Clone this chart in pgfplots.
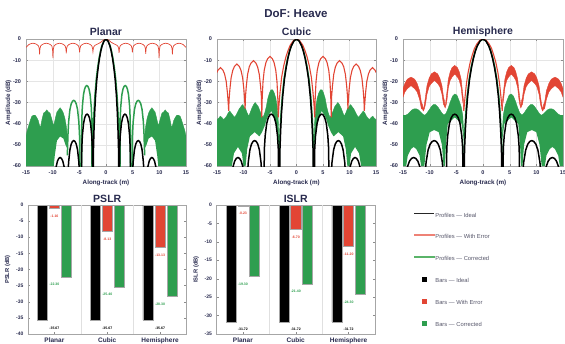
\documentclass[border=0pt]{standalone}
\usepackage{fontspec}
\setmainfont{Liberation Sans}
\usepackage{pgfplots}
\pgfplotsset{compat=1.18}
\usepgfplotslibrary{fillbetween}
\definecolor{cred}{RGB}{226,69,52}
\definecolor{cgreen}{RGB}{46,158,79}
\definecolor{navy}{RGB}{40,42,78}
\definecolor{leg}{RGB}{85,85,105}
\definecolor{lred}{RGB}{238,130,118}
\definecolor{lgreen}{RGB}{90,180,105}
\pgfplotsset{
 common/.style={scale only axis, axis line style={black!35}, tick style={black!45,line width=0.3pt},
   major tick length=2pt, tick align=inside,
   /pgf/number format/assume math mode=true,
   every axis title/.style={at={(axis description cs:0.5,#1)}, anchor=center, font=\bfseries\fontsize{10.5}{12}\selectfont, text=navy}},
 prof/.style={common=1.055, width=160pt, height=127pt, xmin=-15, xmax=15, ymin=-60, ymax=0,
   xtick={-15,-10,...,15}, ytick={-60,-50,...,0}, grid=major, grid style={black!10,line width=0.3pt},
   ticklabel style={font=\bfseries\fontsize{5.5}{6}\selectfont, text=navy},
   x tick label style={yshift=-1.5pt}, y tick label style={xshift=-1.5pt},
   xlabel={Along-track (m)}, ylabel={Amplitude (dB)},
   every axis x label/.style={at={(axis description cs:0.5,-0.131)}, anchor=center, font=\bfseries\fontsize{6.3}{7}\selectfont, text=navy},
   every axis y label/.style={at={(axis description cs:-0.11,0.5)}, rotate=90, anchor=center, font=\bfseries\fontsize{6.3}{7}\selectfont, text=navy}},
 barax/.style={common=1.0465, width=158.5pt, height=129pt, xmin=0.5, xmax=3.5, ymax=0,
   xtick={1,2,3}, xticklabels={Planar,Cubic,Hemisphere},
   x tick label style={font=\bfseries\fontsize{6.5}{7}\selectfont, text=navy, yshift=-0.5pt},
   y tick label style={font=\bfseries\fontsize{5}{5.5}\selectfont, text=navy, xshift=-1pt},
   extra x ticks={1.5,2.5}, extra x tick labels={}, extra x tick style={grid=major, major grid style={black!12,line width=0.4pt}, major tick length=0pt},
   every axis y label/.style={at={(axis description cs:-0.128,0.5)}, rotate=90, anchor=center, font=\bfseries\fontsize{5.8}{7}\selectfont, text=navy}},
 blk/.style={black, line width=1.5pt},
 nn/.style={nodes near coords={\pgfmathprintnumber[fixed,fixed zerofill,precision=2]{\pgfplotspointmeta}},
   every node near coord/.append style={font=\bfseries\fontsize{3.5}{4}\selectfont, text=#1, yshift=-3pt}},
}
\begin{document}
\begin{tikzpicture}
\node[font=\bfseries\fontsize{11.5}{13}\selectfont, text=navy] at (296pt,-14pt) {DoF: Heave};

% ================= Planar =================
\begin{axis}[prof, at={(26pt,-166pt)}, anchor=south west, title={Planar}]
\addplot[name path=pu1, cgreen, line width=0.4pt] coordinates {(7.2,-48)(7.4,-42)(7.7,-37.5)(8.0,-35)(8.3,-33.5)(8.6,-32.5)(8.9,-33.5)(9.2,-34.5)(9.5,-37.5)(9.8,-41)(10.0,-39.5)(10.2,-37.5)(10.5,-35)(10.8,-34.5)(11.1,-33.5)(11.4,-34.5)(11.7,-35)(12.0,-38)(12.3,-42)(12.5,-40.5)(12.7,-38.5)(13.0,-37)(13.3,-36)(13.6,-36)(13.9,-36.5)(14.2,-38.5)(14.5,-41)(14.8,-43.5)(15,-46)};
\addplot[name path=pl1, draw=none] coordinates {(7.2,-52)(7.6,-50)(8.0,-47)(8.6,-46)(9.2,-48)(9.6,-55)(9.8,-60)(15,-60)};
\addplot[cgreen] fill between[of=pu1 and pl1];
\addplot[name path=pu2, cgreen, line width=0.4pt] coordinates {(-7.2,-48)(-7.4,-42)(-7.7,-37.5)(-8.0,-35)(-8.3,-33.5)(-8.6,-32.5)(-8.9,-33.5)(-9.2,-34.5)(-9.5,-37.5)(-9.8,-41)(-10.0,-39.5)(-10.2,-37.5)(-10.5,-35)(-10.8,-34.5)(-11.1,-33.5)(-11.4,-34.5)(-11.7,-35)(-12.0,-38)(-12.3,-42)(-12.5,-40.5)(-12.7,-38.5)(-13.0,-37)(-13.3,-36)(-13.6,-36)(-13.9,-36.5)(-14.2,-38.5)(-14.5,-41)(-14.8,-43.5)(-15,-46)};
\addplot[name path=pl2, draw=none] coordinates {(-7.2,-52)(-7.6,-50)(-8.0,-47)(-8.6,-46)(-9.2,-48)(-9.6,-55)(-9.8,-60)(-15,-60)};
\addplot[cgreen] fill between[of=pu2 and pl2];
% green main lobe and first sidelobes
\addplot[cgreen, line width=1.5pt] coordinates {(0,0)(0.39,-0.9)(0.78,-3.3)(1.04,-5.8)(1.3,-9.2)(1.56,-13.5)(1.82,-19)(2.08,-27)(2.26,-35)(2.39,-43)(2.5,-52)(2.6,-80)(2.66,-38)(2.76,-32.2)(2.97,-26.4)(3.18,-23.7)(3.39,-22.4)(3.6,-22)(3.81,-22.4)(4.02,-23.7)(4.23,-26.4)(4.44,-32.2)(4.54,-38)(4.65,-80)(4.85,-80)(4.97,-45)(5.09,-39.2)(5.33,-33.4)(5.57,-30.7)(5.81,-29.4)(6.05,-29)(6.29,-29.4)(6.53,-30.7)(6.77,-33.4)(7.01,-39.2)(7.13,-45)(7.25,-55)};
\addplot[cgreen, line width=1.5pt] coordinates {(0,0)(-0.39,-0.9)(-0.78,-3.3)(-1.04,-5.8)(-1.3,-9.2)(-1.56,-13.5)(-1.82,-19)(-2.08,-27)(-2.26,-35)(-2.39,-43)(-2.5,-52)(-2.6,-80)(-2.66,-38)(-2.76,-32.2)(-2.97,-26.4)(-3.18,-23.7)(-3.39,-22.4)(-3.6,-22)(-3.81,-22.4)(-4.02,-23.7)(-4.23,-26.4)(-4.44,-32.2)(-4.54,-38)(-4.65,-80)(-4.85,-80)(-4.97,-45)(-5.09,-39.2)(-5.33,-33.4)(-5.57,-30.7)(-5.81,-29.4)(-6.05,-29)(-6.29,-29.4)(-6.53,-30.7)(-6.77,-33.4)(-7.01,-39.2)(-7.13,-45)(-7.25,-55)};
% red (with error)
\addplot[cred, line width=0.7pt] coordinates {(0,0)(0.5,-0.5)(1.0,-1.6)(1.6,-2.4)(2.0,-2.9)(2.25,-3.5)(2.38,-4.5)(2.45,-6.5)(2.52,-4.5)(2.65,-3.3)(2.95,-2.6)(3.3,-2.2)(3.7,-2.0)(4.1,-2.2)(4.45,-2.6)(4.75,-3.3)(4.88,-4.5)(4.95,-6.3)(5.02,-4.5)(5.15,-3.3)(5.45,-2.6)(5.8,-2.2)(6.2,-2.0)(6.6,-2.2)(6.95,-2.6)(7.25,-3.3)(7.38,-4.5)(7.45,-7.0)(7.52,-4.5)(7.65,-3.3)(7.95,-2.6)(8.3,-2.2)(8.7,-2.0)(9.1,-2.2)(9.45,-2.6)(9.75,-3.3)(9.88,-5)(9.95,-9)(10.02,-5)(10.15,-3.3)(10.45,-2.6)(10.8,-2.2)(11.2,-2.0)(11.6,-2.2)(11.95,-2.6)(12.25,-3.3)(12.38,-4.5)(12.45,-7.2)(12.52,-4.5)(12.65,-3.3)(12.95,-2.6)(13.3,-2.2)(13.7,-2.0)(14.1,-2.2)(14.45,-2.6)(14.75,-3.3)(15,-4)};
\addplot[cred, line width=0.7pt] coordinates {(0,0)(-0.5,-0.5)(-1.0,-1.6)(-1.6,-2.4)(-2.0,-2.9)(-2.25,-3.5)(-2.38,-4.5)(-2.45,-6)(-2.52,-4.5)(-2.65,-3.3)(-2.95,-2.6)(-3.3,-2.2)(-3.7,-2.0)(-4.1,-2.2)(-4.45,-2.6)(-4.75,-3.3)(-4.88,-4.5)(-4.95,-6.3)(-5.02,-4.5)(-5.15,-3.3)(-5.45,-2.6)(-5.8,-2.2)(-6.2,-2.0)(-6.6,-2.2)(-6.95,-2.6)(-7.25,-3.3)(-7.38,-4.5)(-7.45,-6.8)(-7.52,-4.5)(-7.65,-3.3)(-7.95,-2.6)(-8.3,-2.2)(-8.7,-2.0)(-9.1,-2.2)(-9.45,-2.6)(-9.75,-3.3)(-9.88,-5)(-9.95,-9)(-10.02,-5)(-10.15,-3.3)(-10.45,-2.6)(-10.8,-2.2)(-11.2,-2.0)(-11.6,-2.2)(-11.95,-2.6)(-12.25,-3.3)(-12.38,-4.5)(-12.45,-7.2)(-12.52,-4.5)(-12.65,-3.3)(-12.95,-2.6)(-13.3,-2.2)(-13.7,-2.0)(-14.1,-2.2)(-14.45,-2.6)(-14.75,-3.3)(-15,-4)};
% black (ideal)
\addplot[blk] coordinates {(0,0)(0.37,-0.9)(0.74,-3.3)(0.98,-5.8)(1.23,-9.2)(1.47,-13.5)(1.72,-19)(1.96,-27)(2.13,-35)(2.25,-43)(2.35,-52)(2.45,-80)(2.56,-51.5)(2.67,-45.7)(2.89,-39.9)(3.11,-37.2)(3.33,-35.9)(3.55,-35.5)(3.77,-35.9)(3.99,-37.2)(4.21,-39.9)(4.43,-45.7)(4.54,-51.5)(4.65,-80)(4.85,-80)(4.97,-64)(5.09,-58.2)(5.33,-52.4)(5.57,-49.7)(5.81,-48.4)(6.05,-48)(6.29,-48.4)(6.53,-49.7)(6.77,-52.4)(7.01,-58.2)(7.13,-64)(7.25,-80)(7.6,-66.2)(7.85,-60.4)(8.1,-57.7)(8.35,-56.4)(8.6,-56)(8.85,-56.4)(9.1,-57.7)(9.35,-60.4)(9.6,-66.2)(15,-80)};
\addplot[blk] coordinates {(0,0)(-0.37,-0.9)(-0.74,-3.3)(-0.98,-5.8)(-1.23,-9.2)(-1.47,-13.5)(-1.72,-19)(-1.96,-27)(-2.13,-35)(-2.25,-43)(-2.35,-52)(-2.45,-80)(-2.56,-51.5)(-2.67,-45.7)(-2.89,-39.9)(-3.11,-37.2)(-3.33,-35.9)(-3.55,-35.5)(-3.77,-35.9)(-3.99,-37.2)(-4.21,-39.9)(-4.43,-45.7)(-4.54,-51.5)(-4.65,-80)(-4.85,-80)(-4.97,-64)(-5.09,-58.2)(-5.33,-52.4)(-5.57,-49.7)(-5.81,-48.4)(-6.05,-48)(-6.29,-48.4)(-6.53,-49.7)(-6.77,-52.4)(-7.01,-58.2)(-7.13,-64)(-7.25,-80)(-7.6,-66.2)(-7.85,-60.4)(-8.1,-57.7)(-8.35,-56.4)(-8.6,-56)(-8.85,-56.4)(-9.1,-57.7)(-9.35,-60.4)(-9.6,-66.2)(-15,-80)};
\end{axis}

% ================= Cubic =================
\begin{axis}[prof, at={(217pt,-166pt)}, anchor=south west, width=159pt, title={Cubic}]
\addplot[name path=cu1, cgreen, line width=0.4pt] coordinates {(3.3,-48)(3.45,-38)(3.65,-32)(3.9,-28)(4.2,-25.5)(4.5,-24)(4.8,-24)(5.1,-25.5)(5.4,-28)(5.7,-32)(6.0,-35)(6.3,-37)(6.6,-36)(6.9,-34)(7.2,-32)(7.5,-31)(7.8,-30)(8.1,-31)(8.4,-32.5)(8.7,-34.5)(9.0,-36.5)(9.3,-35)(9.6,-33)(9.9,-32)(10.2,-31)(10.5,-32)(10.8,-33)(11.1,-34.5)(11.4,-36)(11.7,-37)(12.0,-36)(12.3,-35)(12.6,-34)(12.9,-35)(13.2,-36.5)(13.5,-37.5)(13.8,-38)(14.1,-37)(14.4,-36.5)(14.7,-37.5)(15.0,-38)};
\addplot[name path=cl1, draw=none] coordinates {(3.3,-52)(3.6,-45)(4.0,-39)(4.75,-34)(5.5,-37)(6.0,-41)(6.5,-44)(7.0,-46)(7.9,-44)(8.8,-46)(9.3,-52)(9.6,-60)(10.0,-60)(10.3,-54)(11.05,-51)(11.8,-54)(12.2,-60)(15,-60)};
\addplot[cgreen] fill between[of=cu1 and cl1];
\addplot[name path=cu2, cgreen, line width=0.4pt] coordinates {(-3.3,-48)(-3.45,-38)(-3.65,-32)(-3.9,-28)(-4.2,-25.5)(-4.5,-24)(-4.8,-24)(-5.1,-25.5)(-5.4,-28)(-5.7,-32)(-6.0,-35)(-6.3,-37)(-6.6,-36)(-6.9,-34)(-7.2,-32)(-7.5,-31)(-7.8,-30)(-8.1,-31)(-8.4,-32.5)(-8.7,-34.5)(-9.0,-36.5)(-9.3,-35)(-9.6,-33)(-9.9,-32)(-10.2,-31)(-10.5,-32)(-10.8,-33)(-11.1,-34.5)(-11.4,-36)(-11.7,-37)(-12.0,-36)(-12.3,-35)(-12.6,-34)(-12.9,-35)(-13.2,-36.5)(-13.5,-37.5)(-13.8,-38)(-14.1,-37)(-14.4,-36.5)(-14.7,-37.5)(-15.0,-38)};
\addplot[name path=cl2, draw=none] coordinates {(-3.3,-52)(-3.6,-45)(-4.0,-39)(-4.75,-34)(-5.5,-37)(-6.0,-41)(-6.5,-44)(-7.0,-46)(-7.9,-44)(-8.8,-46)(-9.3,-52)(-9.6,-60)(-10.0,-60)(-10.3,-54)(-11.05,-51)(-11.8,-54)(-12.2,-60)(-15,-60)};
\addplot[cgreen] fill between[of=cu2 and cl2];
\addplot[cgreen, line width=1.5pt] coordinates {(-3.35,-80)(-3.22,-52)(-3.08,-43)(-2.91,-35)(-2.68,-27)(-2.35,-19)(-2.01,-13.5)(-1.68,-9.2)(-1.34,-5.8)(-1.0,-3.3)(-0.5,-0.9)(0,0)(0.5,-0.9)(1.0,-3.3)(1.34,-5.8)(1.68,-9.2)(2.01,-13.5)(2.35,-19)(2.68,-27)(2.91,-35)(3.08,-43)(3.22,-52)(3.35,-80)};
% red
\addplot[cred, line width=1.1pt] coordinates {(0,0)(0.6,-0.8)(1.2,-3)(1.6,-5.5)(2.0,-8.5)(2.4,-12.5)(2.8,-18)(3.1,-25)(3.3,-31)(3.45,-37)(3.53,-28)(3.68,-20.2)(3.915,-14.7)(4.225,-11.2)(4.535,-9.4)(5.0,-8.2)(5.465,-9.4)(5.775,-11.2)(6.085,-14.7)(6.32,-20.2)(6.47,-28)(6.55,-37)(6.625,-27.2)(6.785,-22.2)(7.025,-16.7)(7.335,-13.2)(7.655,-11.4)(8.125,-10.2)(8.595,-11.4)(8.915,-13.2)(9.225,-16.7)(9.465,-22.2)(9.625,-27.2)(9.7,-33)(9.78,-28.8)(9.93,-23.8)(10.165,-18.3)(10.475,-14.8)(10.785,-13.0)(11.25,-11.8)(11.715,-13.0)(12.025,-14.8)(12.335,-18.3)(12.57,-23.8)(12.72,-28.8)(12.8,-34)(12.88,-30.5)(13.03,-25.5)(13.265,-20)(13.575,-16.5)(13.885,-14.7)(14.35,-13.5)(14.815,-14.7)(15,-15.8)};
\addplot[cred, line width=1.1pt] coordinates {(0,0)(-0.6,-0.8)(-1.2,-3)(-1.6,-5.5)(-2.0,-8.5)(-2.4,-12.5)(-2.8,-18)(-3.1,-25)(-3.3,-31)(-3.45,-37)(-3.53,-28)(-3.68,-20.2)(-3.915,-14.7)(-4.225,-11.2)(-4.535,-9.4)(-5.0,-8.2)(-5.465,-9.4)(-5.775,-11.2)(-6.085,-14.7)(-6.32,-20.2)(-6.47,-28)(-6.55,-37)(-6.625,-27.2)(-6.785,-22.2)(-7.025,-16.7)(-7.335,-13.2)(-7.655,-11.4)(-8.125,-10.2)(-8.595,-11.4)(-8.915,-13.2)(-9.225,-16.7)(-9.465,-22.2)(-9.625,-27.2)(-9.7,-33)(-9.78,-28.8)(-9.93,-23.8)(-10.165,-18.3)(-10.475,-14.8)(-10.785,-13.0)(-11.25,-11.8)(-11.715,-13.0)(-12.025,-14.8)(-12.335,-18.3)(-12.57,-23.8)(-12.72,-28.8)(-12.8,-34)(-12.88,-30.5)(-13.03,-25.5)(-13.265,-20)(-13.575,-16.5)(-13.885,-14.7)(-14.35,-13.5)(-14.815,-14.7)(-15,-15.8)};
% black
\addplot[blk] coordinates {(0,0)(0.49,-0.9)(0.98,-3.3)(1.3,-5.8)(1.63,-9.2)(1.95,-13.5)(2.28,-19)(2.6,-27)(2.83,-35)(2.99,-43)(3.12,-52)(3.25,-80)(3.3,-80)(3.445,-51.5)(3.59,-45.7)(3.88,-39.9)(4.17,-37.2)(4.46,-35.9)(4.75,-35.5)(5.04,-35.9)(5.33,-37.2)(5.62,-39.9)(5.91,-45.7)(6.055,-51.5)(6.2,-80)(6.4,-80)(6.55,-64)(6.7,-58.2)(7.0,-52.4)(7.3,-49.7)(7.6,-48.4)(7.9,-48)(8.2,-48.4)(8.5,-49.7)(8.8,-52.4)(9.1,-58.2)(9.25,-64)(9.4,-80)(9.81,-66.2)(10.12,-60.4)(10.43,-57.7)(10.74,-56.4)(11.05,-56)(11.36,-56.4)(11.67,-57.7)(11.98,-60.4)(12.29,-66.2)(15,-80)};
\addplot[blk] coordinates {(0,0)(-0.49,-0.9)(-0.98,-3.3)(-1.3,-5.8)(-1.63,-9.2)(-1.95,-13.5)(-2.28,-19)(-2.6,-27)(-2.83,-35)(-2.99,-43)(-3.12,-52)(-3.25,-80)(-3.3,-80)(-3.445,-51.5)(-3.59,-45.7)(-3.88,-39.9)(-4.17,-37.2)(-4.46,-35.9)(-4.75,-35.5)(-5.04,-35.9)(-5.33,-37.2)(-5.62,-39.9)(-5.91,-45.7)(-6.055,-51.5)(-6.2,-80)(-6.4,-80)(-6.55,-64)(-6.7,-58.2)(-7.0,-52.4)(-7.3,-49.7)(-7.6,-48.4)(-7.9,-48)(-8.2,-48.4)(-8.5,-49.7)(-8.8,-52.4)(-9.1,-58.2)(-9.25,-64)(-9.4,-80)(-9.81,-66.2)(-10.12,-60.4)(-10.43,-57.7)(-10.74,-56.4)(-11.05,-56)(-11.36,-56.4)(-11.67,-57.7)(-11.98,-60.4)(-12.29,-66.2)(-15,-80)};
\end{axis}

% ================= Hemisphere =================
\begin{axis}[prof, at={(403pt,-166pt)}, anchor=south west, title={Hemisphere}]
\addplot[name path=hu1, cgreen, line width=0.4pt] coordinates {(3.6,-45)(3.8,-36)(4.1,-32)(4.5,-29)(4.9,-26.5)(5.3,-26)(5.7,-27)(6.1,-29.5)(6.5,-32.5)(6.9,-35)(7.3,-36)(7.7,-35)(8.1,-33.5)(8.5,-32)(8.9,-31)(9.3,-31)(9.7,-32)(10.1,-33.5)(10.5,-35)(10.9,-36)(11.3,-35.5)(11.7,-34.5)(12.1,-33.5)(12.5,-33)(12.9,-33)(13.3,-33.5)(13.7,-34.5)(14.1,-35.5)(14.5,-36)(15.0,-36)};
\addplot[name path=hl1, draw=none] coordinates {(3.6,-48)(4.0,-40)(5.3,-37)(6.6,-40)(6.95,-50)(7.15,-60)(7.4,-60)(7.7,-50)(8.3,-44)(9.15,-43)(10.0,-44)(10.6,-50)(11.0,-60)(11.6,-60)(11.9,-55)(12.5,-52)(13.0,-51)(13.5,-52)(14.1,-55)(14.4,-60)(15,-60)};
\addplot[cgreen] fill between[of=hu1 and hl1];
\addplot[name path=hu2, cgreen, line width=0.4pt] coordinates {(-3.6,-45)(-3.8,-36)(-4.1,-32)(-4.5,-29)(-4.9,-26.5)(-5.3,-26)(-5.7,-27)(-6.1,-29.5)(-6.5,-32.5)(-6.9,-35)(-7.3,-36)(-7.7,-35)(-8.1,-33.5)(-8.5,-32)(-8.9,-31)(-9.3,-31)(-9.7,-32)(-10.1,-33.5)(-10.5,-35)(-10.9,-36)(-11.3,-35.5)(-11.7,-34.5)(-12.1,-33.5)(-12.5,-33)(-12.9,-33)(-13.3,-33.5)(-13.7,-34.5)(-14.1,-35.5)(-14.5,-36)(-15.0,-36)};
\addplot[name path=hl2, draw=none] coordinates {(-3.6,-48)(-4.0,-40)(-5.3,-37)(-6.6,-40)(-6.95,-50)(-7.15,-60)(-7.4,-60)(-7.7,-50)(-8.3,-44)(-9.15,-43)(-10.0,-44)(-10.6,-50)(-11.0,-60)(-11.6,-60)(-11.9,-55)(-12.5,-52)(-13.0,-51)(-13.5,-52)(-14.1,-55)(-14.4,-60)(-15,-60)};
\addplot[cgreen] fill between[of=hu2 and hl2];
\addplot[cgreen, line width=1.5pt] coordinates {(-3.7,-80)(-3.55,-52)(-3.4,-43)(-3.22,-35)(-2.96,-27)(-2.59,-19)(-2.22,-13.5)(-1.85,-9.2)(-1.48,-5.8)(-1.11,-3.3)(-0.56,-0.9)(0,0)(0.56,-0.9)(1.11,-3.3)(1.48,-5.8)(1.85,-9.2)(2.22,-13.5)(2.59,-19)(2.96,-27)(3.22,-35)(3.4,-43)(3.55,-52)(3.7,-80)};
% red bands
\addplot[name path=ru1, cred, line width=0.4pt] coordinates {(3.6,-34)(3.7,-28)(3.86,-24.5)(4.1,-19)(4.45,-15.5)(4.8,-13.5)(5.3,-12.5)(5.8,-13.5)(6.15,-15.5)(6.5,-19)(6.74,-24.5)(6.9,-28)(7.1,-32)(7.25,-29)(7.4,-27.5)(7.7,-22)(8.1,-18.5)(8.5,-16.5)(9.1,-15.5)(9.7,-16.5)(10.1,-18.5)(10.5,-22)(10.8,-27.5)(11.0,-31)(11.2,-33.5)(11.35,-31)(11.545,-30)(11.89,-24.5)(12.35,-21)(12.81,-19)(13.5,-18)(14.19,-19)(14.65,-21)(15.0,-23.5)};
\addplot[name path=rl1, cred, line width=0.4pt] coordinates {(3.6,-34)(3.7,-31)(3.86,-28.5)(4.1,-23)(4.45,-19.5)(4.8,-18)(5.3,-16.5)(5.8,-18)(6.15,-19.5)(6.5,-23)(6.74,-28.5)(6.9,-31)(7.1,-32.5)(7.25,-31.5)(7.4,-31)(7.7,-26)(8.1,-22.5)(8.5,-21)(9.1,-19.5)(9.7,-21)(10.1,-22.5)(10.5,-26)(10.8,-31)(11.0,-33)(11.2,-34)(11.35,-33)(11.545,-33)(11.89,-28.5)(12.35,-25)(12.81,-23.5)(13.5,-22)(14.19,-23.5)(14.65,-25)(15.0,-27.5)};
\addplot[cred] fill between[of=ru1 and rl1];
\addplot[name path=ru2, cred, line width=0.4pt] coordinates {(-3.6,-34)(-3.7,-28)(-3.86,-24.5)(-4.1,-19)(-4.45,-15.5)(-4.8,-13.5)(-5.3,-12.5)(-5.8,-13.5)(-6.15,-15.5)(-6.5,-19)(-6.74,-24.5)(-6.9,-28)(-7.1,-32)(-7.25,-29)(-7.4,-27.5)(-7.7,-22)(-8.1,-18.5)(-8.5,-16.5)(-9.1,-15.5)(-9.7,-16.5)(-10.1,-18.5)(-10.5,-22)(-10.8,-27.5)(-11.0,-31)(-11.2,-33.5)(-11.35,-31)(-11.545,-30)(-11.89,-24.5)(-12.35,-21)(-12.81,-19)(-13.5,-18)(-14.19,-19)(-14.65,-21)(-15.0,-23.5)};
\addplot[name path=rl2, cred, line width=0.4pt] coordinates {(-3.6,-34)(-3.7,-31)(-3.86,-28.5)(-4.1,-23)(-4.45,-19.5)(-4.8,-18)(-5.3,-16.5)(-5.8,-18)(-6.15,-19.5)(-6.5,-23)(-6.74,-28.5)(-6.9,-31)(-7.1,-32.5)(-7.25,-31.5)(-7.4,-31)(-7.7,-26)(-8.1,-22.5)(-8.5,-21)(-9.1,-19.5)(-9.7,-21)(-10.1,-22.5)(-10.5,-26)(-10.8,-31)(-11.0,-33)(-11.2,-34)(-11.35,-33)(-11.545,-33)(-11.89,-28.5)(-12.35,-25)(-12.81,-23.5)(-13.5,-22)(-14.19,-23.5)(-14.65,-25)(-15.0,-27.5)};
\addplot[cred] fill between[of=ru2 and rl2];
\addplot[cred, line width=1.1pt] coordinates {(-3.6,-34)(-3.5,-31)(-3.35,-27)(-3.1,-21)(-2.8,-16)(-2.4,-11)(-2.0,-7.5)(-1.6,-4.5)(-1.2,-2.5)(-0.6,-0.6)(0,0)(0.6,-0.6)(1.2,-2.5)(1.6,-4.5)(2.0,-7.5)(2.4,-11)(2.8,-16)(3.1,-21)(3.35,-27)(3.5,-31)(3.6,-34)};
% black
\addplot[blk] coordinates {(0,0)(0.54,-0.9)(1.08,-3.3)(1.44,-5.8)(1.8,-9.2)(2.16,-13.5)(2.52,-19)(2.88,-27)(3.13,-35)(3.31,-43)(3.46,-52)(3.6,-80)(3.65,-80)(3.815,-51.5)(3.98,-45.7)(4.31,-39.9)(4.64,-37.2)(4.97,-35.9)(5.3,-35.5)(5.63,-35.9)(5.96,-37.2)(6.29,-39.9)(6.62,-45.7)(6.785,-51.5)(6.95,-80)(7.25,-80)(7.44,-64)(7.63,-58.2)(8.01,-52.4)(8.39,-49.7)(8.77,-48.4)(9.15,-48)(9.53,-48.4)(9.91,-49.7)(10.29,-52.4)(10.67,-58.2)(10.86,-64)(11.05,-80)(11.44,-66.2)(11.83,-60.4)(12.22,-57.7)(12.61,-56.4)(13.0,-56)(13.39,-56.4)(13.78,-57.7)(14.17,-60.4)(14.56,-66.2)(15,-80)};
\addplot[blk] coordinates {(0,0)(-0.54,-0.9)(-1.08,-3.3)(-1.44,-5.8)(-1.8,-9.2)(-2.16,-13.5)(-2.52,-19)(-2.88,-27)(-3.13,-35)(-3.31,-43)(-3.46,-52)(-3.6,-80)(-3.65,-80)(-3.815,-51.5)(-3.98,-45.7)(-4.31,-39.9)(-4.64,-37.2)(-4.97,-35.9)(-5.3,-35.5)(-5.63,-35.9)(-5.96,-37.2)(-6.29,-39.9)(-6.62,-45.7)(-6.785,-51.5)(-6.95,-80)(-7.25,-80)(-7.44,-64)(-7.63,-58.2)(-8.01,-52.4)(-8.39,-49.7)(-8.77,-48.4)(-9.15,-48)(-9.53,-48.4)(-9.91,-49.7)(-10.29,-52.4)(-10.67,-58.2)(-10.86,-64)(-11.05,-80)(-11.44,-66.2)(-11.83,-60.4)(-12.22,-57.7)(-12.61,-56.4)(-13.0,-56)(-13.39,-56.4)(-13.78,-57.7)(-14.17,-60.4)(-14.56,-66.2)(-15,-80)};
\end{axis}

% ================= PSLR =================
\begin{axis}[barax, at={(28pt,-334pt)}, anchor=south west, ymin=-40, ytick={-40,-35,...,0}, title={PSLR}, ylabel={PSLR (dB)}]
\addplot[ybar, bar width=0.19, bar shift=-0.23, fill=black, draw=black!35, line width=0.5pt, nn=black] coordinates {(1,-35.67)(2,-35.67)(3,-35.67)};
\addplot[ybar, bar width=0.19, bar shift=0, fill=cred, draw=black!35, line width=0.5pt, nn=cred] coordinates {(1,-1.16)(2,-8.13)(3,-13.13)};
\addplot[ybar, bar width=0.19, bar shift=0.23, fill=cgreen, draw=black!35, line width=0.5pt, nn=cgreen] coordinates {(1,-22.30)(2,-25.40)(3,-28.30)};
\end{axis}

% ================= ISLR =================
\begin{axis}[barax, at={(216.5pt,-334pt)}, anchor=south west, ymin=-35, ytick={-35,-30,...,0}, title={ISLR}, ylabel={ISLR (dB)}]
\addplot[ybar, bar width=0.19, bar shift=-0.22, fill=black, draw=black!35, line width=0.5pt, nn=black] coordinates {(1,-31.72)(2,-31.72)(3,-31.72)};
\addplot[ybar, bar width=0.19, bar shift=0, fill=cred, draw=black!35, line width=0.5pt, nn=cred] coordinates {(1,-0.23)(2,-6.70)(3,-11.20)};
\addplot[ybar, bar width=0.19, bar shift=0.22, fill=cgreen, draw=black!35, line width=0.5pt, nn=cgreen] coordinates {(1,-19.30)(2,-21.40)(3,-24.30)};
\end{axis}

% ================= Legend =================
\begin{axis}[at={(413pt,-212pt)}, anchor=north west, hide axis, scale only axis, width=20pt, height=20pt,
  xmin=0, xmax=1, ymin=0, ymax=1,
  legend cell align=left,
  legend style={at={(0,1)}, anchor=north west, draw=none, fill=none, inner sep=0pt,
    row sep=14.6pt, font=\fontsize{5.8}{6.5}\selectfont,
    nodes={inner sep=0.6pt}}]
\addlegendimage{legend image code/.code={\draw[black!85, line width=1.6pt] (0pt,2pt) -- (20pt,2pt);}}
\addlegendentry{\textcolor{leg}{Profiles \textemdash{} Ideal}}
\addlegendimage{legend image code/.code={\fill[lred] (0pt,1.5pt) rectangle (20pt,2.5pt);}}
\addlegendentry{\textcolor{leg}{Profiles \textemdash{} With Error}}
\addlegendimage{legend image code/.code={\fill[lgreen] (0pt,1.55pt) rectangle (20pt,2.45pt);}}
\addlegendentry{\textcolor{leg}{Profiles \textemdash{} Corrected}}
\addlegendimage{legend image code/.code={\fill[black] (8pt,0pt) rectangle (12pt,4pt);}}
\addlegendentry{\textcolor{leg}{Bars \textemdash{} Ideal}}
\addlegendimage{legend image code/.code={\fill[cred] (8pt,0pt) rectangle (12pt,4pt);}}
\addlegendentry{\textcolor{leg}{Bars \textemdash{} With Error}}
\addlegendimage{legend image code/.code={\fill[cgreen] (8pt,0pt) rectangle (12pt,4pt);}}
\addlegendentry{\textcolor{leg}{Bars \textemdash{} Corrected}}
\end{axis}
\pgfresetboundingbox
\useasboundingbox (0,0) rectangle (565pt,-343pt);
\end{tikzpicture}
\end{document}
